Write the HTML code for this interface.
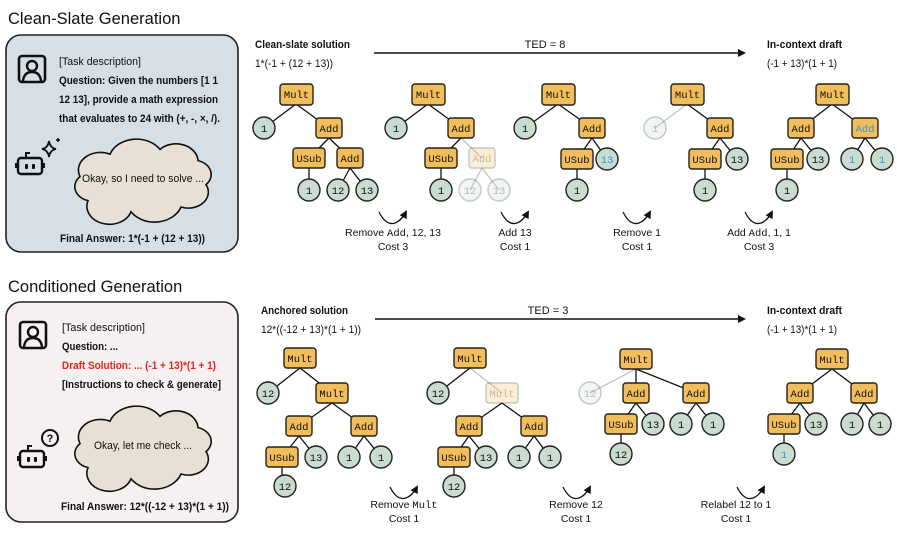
<!DOCTYPE html>
<html><head><meta charset="utf-8"><style>
html,body{margin:0;padding:0;background:#fff}
svg{display:block}
text{font-family:"Liberation Sans",sans-serif;fill:#111}
.m{font-family:"Liberation Mono",monospace;font-size:10.5px;text-anchor:middle}
.b rect{fill:#f2bd5b;stroke:#222;stroke-width:1.4}
.c{fill:#c9dccf;stroke:#222;stroke-width:1.4}
.e{stroke:#111;stroke-width:1.3;fill:none}
.f{opacity:.25}
.t{font-size:11px}
.lab{font-size:10.5px;text-anchor:middle}
</style></head><body>
<svg width="897" height="534" viewBox="0 0 897 534" xmlns="http://www.w3.org/2000/svg">
<defs>
<marker id="ah" markerWidth="8" markerHeight="8" refX="6" refY="4" orient="auto" markerUnits="userSpaceOnUse"><path d="M0,0 L8,4 L0,8 z" fill="#111"/></marker>
<g id="cloud"><path d="M90 200 a18 18 0 0 1 -8 -30 a22 22 0 0 1 30 -28 a28 28 0 0 1 50 -6 a22 22 0 0 1 38 14 a18 18 0 0 1 8 30 a20 20 0 0 1 -25 28 a28 28 0 0 1 -50 6 a22 22 0 0 1 -43 -14 z" fill="#e6e0d6" stroke="#111" stroke-width="1.6" vector-effect="non-scaling-stroke"/></g>
<g id="person"><rect x="0" y="0" width="26" height="26" rx="3" fill="none" stroke="#111" stroke-width="2.6"/><circle cx="13" cy="10" r="5" fill="none" stroke="#111" stroke-width="2.4"/><path d="M4 25 Q5 16 13 16 Q21 16 22 25" fill="none" stroke="#111" stroke-width="2.4"/></g>
<g id="robot"><rect x="0" y="6" width="24" height="16" rx="3" fill="none" stroke="#111" stroke-width="2.4"/><path d="M8 6 V1 H12" fill="none" stroke="#111" stroke-width="2"/><rect x="-3" y="11" width="3" height="5" fill="#111"/><rect x="24" y="11" width="3" height="5" fill="#111"/><rect x="7" y="12" width="3" height="5" rx="1" fill="#111"/><rect x="14" y="12" width="3" height="5" rx="1" fill="#111"/></g>
</defs>

<text x="8" y="24" style="font-size:16.5px">Clean-Slate Generation</text>
<text x="8" y="292" style="font-size:16.5px">Conditioned Generation</text>

<!-- Panel 1 -->
<rect x="6" y="35" width="232" height="217" rx="15" fill="#d6dee6" stroke="#222" stroke-width="1.6"/>
<use href="#person" x="19" y="56"/>
<text class="t" x="59" y="65" textLength="82" lengthAdjust="spacingAndGlyphs">[Task description]</text>
<text class="t" x="59" y="84" style="font-weight:bold" textLength="159" lengthAdjust="spacingAndGlyphs">Question: Given the numbers [1 1</text>
<text class="t" x="59" y="103" style="font-weight:bold" textLength="159" lengthAdjust="spacingAndGlyphs">12 13], provide a math expression</text>
<text class="t" x="59" y="122" style="font-weight:bold" textLength="161" lengthAdjust="spacingAndGlyphs">that evaluates to 24 with (+, -, ×, /).</text>
<use href="#robot" x="18" y="152"/>
<path d="M49 141 Q50 148 56 149 Q50 150 49 157 Q48 150 42 149 Q48 148 49 141 z" fill="none" stroke="#111" stroke-width="1.8"/>
<path d="M56 140 h4 M58 138 v4" stroke="#111" stroke-width="1.4"/>
<g transform="translate(-2,40.6) scale(1,0.8)"><use href="#cloud"/></g>
<text class="t" x="143" y="182" text-anchor="middle" textLength="122" lengthAdjust="spacingAndGlyphs">Okay, so I need to solve ...</text>
<text class="t" x="60" y="242" style="font-weight:bold" textLength="145" lengthAdjust="spacingAndGlyphs">Final Answer: 1*(-1 + (12 + 13))</text>

<!-- Panel 2 -->
<rect x="6" y="302" width="232" height="220" rx="15" fill="#f6f1f0" stroke="#222" stroke-width="1.6"/>
<use href="#person" x="20" y="322"/>
<text class="t" x="62" y="331" textLength="83" lengthAdjust="spacingAndGlyphs">[Task description]</text>
<text class="t" x="62" y="350" style="font-weight:bold" textLength="56" lengthAdjust="spacingAndGlyphs">Question: ...</text>
<text class="t" x="62" y="369" style="font-weight:bold;fill:#e8201e" textLength="154" lengthAdjust="spacingAndGlyphs">Draft Solution: ... (-1 + 13)*(1 + 1)</text>
<text class="t" x="62" y="388" style="font-weight:bold" textLength="159" lengthAdjust="spacingAndGlyphs">[Instructions to check &amp; generate]</text>
<use href="#robot" x="20" y="445"/>
<circle cx="50" cy="438" r="8" fill="none" stroke="#111" stroke-width="2"/>
<text x="50" y="442" text-anchor="middle" style="font-size:11px;font-weight:bold">?</text>
<g transform="translate(-2,307.6) scale(1,0.8)"><use href="#cloud"/></g>
<text class="t" x="143" y="449" text-anchor="middle" textLength="98" lengthAdjust="spacingAndGlyphs">Okay, let me check ...</text>
<text class="t" x="61" y="510" style="font-weight:bold" textLength="168" lengthAdjust="spacingAndGlyphs">Final Answer: 12*((-12 + 13)*(1 + 1))</text>

<!-- Top headers -->
<text class="t" x="255" y="48" style="font-weight:bold" textLength="95" lengthAdjust="spacingAndGlyphs">Clean-slate solution</text>
<text class="t" x="255" y="67" textLength="78" lengthAdjust="spacingAndGlyphs">1*(-1 + (12 + 13))</text>
<text class="t" x="545" y="48" text-anchor="middle">TED = 8</text>
<line x1="374" y1="53" x2="744" y2="53" stroke="#111" stroke-width="1.4" marker-end="url(#ah)"/>
<text class="t" x="767" y="48" style="font-weight:bold" textLength="75" lengthAdjust="spacingAndGlyphs">In-context draft</text>
<text class="t" x="767" y="67" textLength="70" lengthAdjust="spacingAndGlyphs">(-1 + 13)*(1 + 1)</text>

<!-- Tree T1 -->
<g>
<path class="e" d="M296 104 L264 128 M296 104 L329 128 M329 138 L309 158 M329 138 L350 158 M309 168 L309 190 M350 168 L338 190 M350 168 L367 190"/>
<g class="b"><rect x="280" y="84" width="33" height="21" rx="3"/><rect x="316" y="118" width="26" height="20" rx="3"/><rect x="293" y="148" width="32" height="20" rx="3"/><rect x="337" y="148" width="26" height="20" rx="3"/></g>
<circle class="c" cx="264" cy="128" r="11"/><circle class="c" cx="309" cy="190" r="11"/><circle class="c" cx="338" cy="190" r="11"/><circle class="c" cx="367" cy="190" r="11"/>
<text class="m" x="296.5" y="98">Mult</text><text class="m" x="329" y="132">Add</text><text class="m" x="309" y="162">USub</text><text class="m" x="350" y="162">Add</text>
<text class="m" x="264" y="132">1</text><text class="m" x="309" y="194">1</text><text class="m" x="338" y="194">12</text><text class="m" x="367" y="194">13</text>
</g>

<!-- Tree T2 -->
<g>
<path class="e" d="M428 104 L396 128 M428 104 L461 128 M461 138 L441 158"/>
<path class="e f" d="M461 138 L482 158 M482 168 L470 190 M482 168 L499 190"/>
<path class="e" d="M441 168 L441 180"/>
<g class="b"><rect x="412" y="84" width="33" height="21" rx="3"/><rect x="448" y="118" width="26" height="20" rx="3"/><rect x="425" y="148" width="32" height="20" rx="3"/><rect class="f" x="469" y="148" width="26" height="20" rx="3"/></g>
<circle class="c" cx="396" cy="128" r="11"/><circle class="c" cx="441" cy="190" r="11"/>
<circle class="c f" cx="470" cy="190" r="11"/><circle class="c f" cx="499" cy="190" r="11"/>
<text class="m" x="428.5" y="98">Mult</text><text class="m" x="461" y="132">Add</text><text class="m" x="441" y="162">USub</text><text class="m f" x="482" y="162">Add</text>
<text class="m" x="396" y="132">1</text><text class="m" x="441" y="194">1</text><text class="m f" x="470" y="194">12</text><text class="m f" x="499" y="194">13</text>
</g>

<!-- Tree T3 -->
<g>
<path class="e" d="M558 104 L525 128 M558 104 L592 128 M592 138 L577 159 M592 138 L607 159 M577 169 L577 190"/>
<g class="b"><rect x="542" y="84" width="33" height="21" rx="3"/><rect x="579" y="118" width="26" height="20" rx="3"/><rect x="561" y="149" width="32" height="20" rx="3"/></g>
<circle class="c" cx="525" cy="128" r="11"/><circle class="c" cx="607" cy="159" r="11"/><circle class="c" cx="577" cy="190" r="11"/>
<text class="m" x="558.5" y="98">Mult</text><text class="m" x="592" y="132">Add</text><text class="m" x="577" y="163">USub</text>
<text class="m" x="525" y="132">1</text><text class="m" x="607" y="163" style="fill:#2a9be0">13</text><text class="m" x="577" y="194">1</text>
</g>

<!-- Tree T4 -->
<g>
<path class="e f" d="M687 104 L655 128"/>
<path class="e" d="M687 104 L720 128 M720 138 L705 159 M720 138 L737 159 M705 169 L705 190"/>
<g class="b"><rect x="671" y="84" width="33" height="21" rx="3"/><rect x="707" y="118" width="26" height="20" rx="3"/><rect x="689" y="149" width="32" height="20" rx="3"/></g>
<circle class="c f" cx="655" cy="128" r="11"/><circle class="c" cx="737" cy="159" r="11"/><circle class="c" cx="705" cy="190" r="11"/>
<text class="m" x="687.5" y="98">Mult</text><text class="m" x="720" y="132">Add</text><text class="m" x="705" y="163">USub</text>
<text class="m f" x="655" y="132">1</text><text class="m" x="737" y="163">13</text><text class="m" x="705" y="194">1</text>
</g>

<!-- Tree T5 -->
<g>
<path class="e" d="M832 104 L801 128 M832 104 L865 128 M801 138 L787 159 M801 138 L818 159 M865 138 L852 159 M865 138 L882 159 M787 169 L787 190"/>
<g class="b"><rect x="816" y="84" width="33" height="21" rx="3"/><rect x="788" y="118" width="26" height="20" rx="3"/><rect x="852" y="118" width="26" height="20" rx="3"/><rect x="771" y="149" width="32" height="20" rx="3"/></g>
<circle class="c" cx="818" cy="159" r="11"/><circle class="c" cx="852" cy="159" r="11"/><circle class="c" cx="882" cy="159" r="11"/><circle class="c" cx="787" cy="190" r="11"/>
<text class="m" x="832.5" y="98">Mult</text><text class="m" x="801" y="132">Add</text><text class="m" x="865" y="132" style="fill:#2a9be0">Add</text><text class="m" x="787" y="163">USub</text>
<text class="m" x="818" y="163">13</text><text class="m" x="852" y="163" style="fill:#2a9be0">1</text><text class="m" x="882" y="163" style="fill:#2a9be0">1</text><text class="m" x="787" y="194">1</text>
</g>

<g fill="none" stroke="#111" stroke-width="1.3">
<path d="M379 212 Q386 226 395 223 Q401 221 406 212" marker-end="url(#ah)"/>
<path d="M501 212 Q508 226 517 223 Q523 221 528 212" marker-end="url(#ah)"/>
<path d="M623 212 Q630 226 639 223 Q645 221 650 212" marker-end="url(#ah)"/>
<path d="M745 212 Q752 226 761 223 Q767 221 772 212" marker-end="url(#ah)"/>
</g>
<text class="lab" x="393" y="236">Remove <tspan style="font-family:'Liberation Mono',monospace">Add</tspan>, 12, 13</text>
<text class="lab" x="393" y="250">Cost 3</text>
<text class="lab" x="515" y="236">Add 13</text>
<text class="lab" x="515" y="250">Cost 1</text>
<text class="lab" x="637" y="236">Remove 1</text>
<text class="lab" x="637" y="250">Cost 1</text>
<text class="lab" x="759" y="236">Add <tspan style="font-family:'Liberation Mono',monospace">Add</tspan>, 1, 1</text>
<text class="lab" x="759" y="250">Cost 3</text>

<!-- Bottom headers -->
<text class="t" x="261" y="314" style="font-weight:bold" textLength="87" lengthAdjust="spacingAndGlyphs">Anchored solution</text>
<text class="t" x="261" y="333" textLength="100" lengthAdjust="spacingAndGlyphs">12*((-12 + 13)*(1 + 1))</text>
<text class="t" x="548" y="314" text-anchor="middle">TED = 3</text>
<line x1="375" y1="319" x2="744" y2="319" stroke="#111" stroke-width="1.4" marker-end="url(#ah)"/>
<text class="t" x="767" y="314" style="font-weight:bold" textLength="75" lengthAdjust="spacingAndGlyphs">In-context draft</text>
<text class="t" x="767" y="333" textLength="70" lengthAdjust="spacingAndGlyphs">(-1 + 13)*(1 + 1)</text>

<!-- B1 -->
<g>
<path class="e" d="M300 368 L268 393 M300 368 L332 393 M332 403 L299 426 M332 403 L364 426 M299 436 L282 457 M299 436 L316 457 M364 436 L349 457 M364 436 L381 457 M282 467 L282 486"/>
<g class="b"><rect x="284" y="348" width="32" height="20" rx="3"/><rect x="316" y="383" width="32" height="20" rx="3"/><rect x="286" y="416" width="26" height="20" rx="3"/><rect x="351" y="416" width="26" height="20" rx="3"/><rect x="266" y="447" width="32" height="20" rx="3"/></g>
<circle class="c" cx="268" cy="393" r="11"/><circle class="c" cx="316" cy="457" r="11"/><circle class="c" cx="349" cy="457" r="11"/><circle class="c" cx="381" cy="457" r="11"/><circle class="c" cx="285" cy="486" r="11"/>
<text class="m" x="300" y="362">Mult</text><text class="m" x="332" y="397">Mult</text><text class="m" x="299" y="430">Add</text><text class="m" x="364" y="430">Add</text><text class="m" x="282" y="461">USub</text>
<text class="m" x="268" y="397">12</text><text class="m" x="316" y="461">13</text><text class="m" x="349" y="461">1</text><text class="m" x="381" y="461">1</text><text class="m" x="285" y="490">12</text>
</g>

<!-- B2 -->
<g>
<path class="e" d="M470 368 L438 393"/>
<path class="e f" d="M470 368 L502 393"/>
<path class="e" d="M502 403 L469 426 M502 403 L534 426 M469 436 L454 457 M469 436 L486 457 M534 436 L519 457 M534 436 L550 457 M454 467 L454 486"/>
<g class="b"><rect x="454" y="348" width="32" height="20" rx="3"/><rect class="f" x="486" y="383" width="32" height="20" rx="3"/><rect x="456" y="416" width="26" height="20" rx="3"/><rect x="521" y="416" width="26" height="20" rx="3"/><rect x="438" y="447" width="32" height="20" rx="3"/></g>
<circle class="c" cx="438" cy="393" r="11"/><circle class="c" cx="486" cy="457" r="11"/><circle class="c" cx="519" cy="457" r="11"/><circle class="c" cx="550" cy="457" r="11"/><circle class="c" cx="454" cy="486" r="11"/>
<text class="m" x="470" y="362">Mult</text><text class="m f" x="502" y="397">Mult</text><text class="m" x="469" y="430">Add</text><text class="m" x="534" y="430">Add</text><text class="m" x="454" y="461">USub</text>
<text class="m" x="438" y="397">12</text><text class="m" x="486" y="461">13</text><text class="m" x="519" y="461">1</text><text class="m" x="550" y="461">1</text><text class="m" x="454" y="490">12</text>
</g>

<!-- B3 -->
<g>
<path class="e f" d="M636 369 L590 393"/>
<path class="e" d="M636 369 L636 393 M636 369 L696 393 M636 403 L621 424 M636 403 L653 424 M696 403 L681 424 M696 403 L713 424 M621 434 L621 454"/>
<g class="b"><rect x="620" y="349" width="32" height="20" rx="3"/><rect x="623" y="383" width="26" height="20" rx="3"/><rect x="683" y="383" width="26" height="20" rx="3"/><rect x="605" y="414" width="32" height="20" rx="3"/></g>
<circle class="c f" cx="590" cy="393" r="11"/><circle class="c" cx="653" cy="424" r="11"/><circle class="c" cx="681" cy="424" r="11"/><circle class="c" cx="713" cy="424" r="11"/><circle class="c" cx="621" cy="454" r="11"/>
<text class="m" x="636" y="363">Mult</text><text class="m" x="636" y="397">Add</text><text class="m" x="696" y="397">Add</text><text class="m" x="621" y="428">USub</text>
<text class="m f" x="590" y="397">12</text><text class="m" x="653" y="428">13</text><text class="m" x="681" y="428">1</text><text class="m" x="713" y="428">1</text><text class="m" x="621" y="458">12</text>
</g>

<!-- B4 -->
<g>
<path class="e" d="M832 369 L800 393 M832 369 L864 393 M800 403 L784 424 M800 403 L816 424 M864 403 L852 424 M864 403 L880 424 M784 434 L784 454"/>
<g class="b"><rect x="816" y="349" width="32" height="20" rx="3"/><rect x="787" y="383" width="26" height="20" rx="3"/><rect x="851" y="383" width="26" height="20" rx="3"/><rect x="768" y="414" width="32" height="20" rx="3"/></g>
<circle class="c" cx="816" cy="424" r="11"/><circle class="c" cx="852" cy="424" r="11"/><circle class="c" cx="880" cy="424" r="11"/><circle class="c" cx="784" cy="454" r="11"/>
<text class="m" x="832" y="363">Mult</text><text class="m" x="800" y="397">Add</text><text class="m" x="864" y="397">Add</text><text class="m" x="784" y="428">USub</text>
<text class="m" x="816" y="428">13</text><text class="m" x="852" y="428">1</text><text class="m" x="880" y="428">1</text><text class="m" x="784" y="458" style="fill:#2a9be0">1</text>
</g>

<g fill="none" stroke="#111" stroke-width="1.3">
<path d="M390 487 Q397 501 406 498 Q412 496 417 487" marker-end="url(#ah)"/>
<path d="M563 487 Q570 501 579 498 Q585 496 590 487" marker-end="url(#ah)"/>
<path d="M737 487 Q744 501 753 498 Q759 496 764 487" marker-end="url(#ah)"/>
</g>
<text class="lab" x="404" y="508">Remove <tspan style="font-family:'Liberation Mono',monospace">Mult</tspan></text>
<text class="lab" x="404" y="522">Cost 1</text>
<text class="lab" x="576" y="508">Remove 12</text>
<text class="lab" x="576" y="522">Cost 1</text>
<text class="lab" x="736" y="508">Relabel 12 to 1</text>
<text class="lab" x="736" y="522">Cost 1</text>
</svg>
</body></html>
